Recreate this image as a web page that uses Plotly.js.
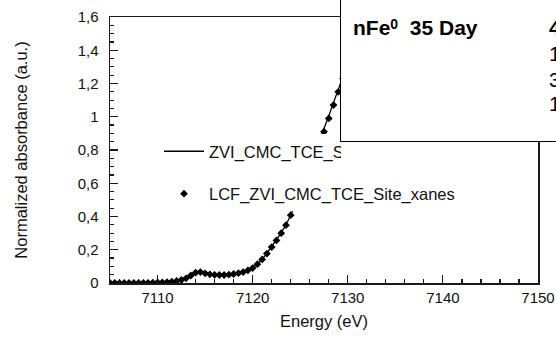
<!DOCTYPE html>
<html>
<head>
<meta charset="utf-8">
<script src="https://cdn.plot.ly/plotly-3.0.1.min.js"></script>
<style>
html,body{margin:0;padding:0;background:#fff;}
#wrap{position:relative;width:556px;height:338px;overflow:hidden;}
#chart{position:absolute;left:0;top:0;width:556px;height:338px;z-index:0;}
#inset{position:absolute;left:340px;top:-3px;width:260px;height:145px;border:1.5px solid #000;background:#fff;box-sizing:border-box;z-index:5;}
#legclip{position:absolute;left:341px;top:142px;width:140px;height:24px;background:#fff;z-index:5;}
.itxt{position:absolute;z-index:6;font-family:Arial,"Liberation Sans",Helvetica,sans-serif;font-size:21px;line-height:21px;color:#000;white-space:pre;}
.itxt sup{font-size:14px;line-height:0;vertical-align:0.45em;}
</style>
</head>
<body>
<div id="wrap">
  <div id="chart"></div>
  <div id="legclip"></div>
  <div id="inset"></div>
</div>
<script>
// Energy grid (eV)
var energy = [7105,7105.5,7106,7106.5,7107,7107.5,7108,7108.5,7109,7109.5,
  7110,7110.5,7111,7111.5,7112,7112.5,7113,7113.5,7114,7114.5,
  7115,7115.5,7116,7116.5,7117,7117.5,7118,7118.5,7119,7119.5,
  7120,7120.5,7121,7121.5,7122,7122.5,7123,7123.5,7124,7124.5,
  7125,7125.5,7126,7126.5,7127,7127.5,7128,7128.5,7129,7129.5,
  7130,7130.5,7131];
// Measured spectrum ZVI_CMC_TCE_Site_xanes
var dataXanes = [0.000,0.000,0.000,0.000,0.000,0.000,0.000,0.001,0.001,0.002,
  0.003,0.004,0.006,0.009,0.013,0.019,0.029,0.046,0.063,0.068,
  0.060,0.053,0.050,0.049,0.049,0.051,0.055,0.060,0.067,0.077,
  0.091,0.114,0.143,0.179,0.219,0.259,0.302,0.350,0.408,0.480,
  0.555,0.625,0.695,0.768,0.845,0.925,1.005,1.085,1.165,1.250,
  1.330,1.400,1.460];
// Linear combination fit LCF_ZVI_CMC_TCE_Site_xanes
var fitXanes = [0.000,0.000,0.000,0.000,0.000,0.000,0.000,0.001,0.001,0.002,
  0.003,0.003,0.005,0.008,0.012,0.018,0.028,0.045,0.062,0.066,
  0.058,0.052,0.049,0.048,0.048,0.050,0.054,0.059,0.066,0.076,
  0.090,0.113,0.142,0.177,0.216,0.256,0.300,0.348,0.408,0.478,
  0.550,0.620,0.690,0.762,0.835,0.910,0.990,1.070,1.150,1.230,
  1.310,1.380,1.440];
var seriesNames = ['ZVI_CMC_TCE_Site_xanes', 'LCF_ZVI_CMC_TCE_Site_xanes'];
var insetTitle = 'nFe<sup>0</sup>  35 Day';
var insetValues = ['4', '1', '3', '1'];

var FONT = 'Arial, "Liberation Sans", Helvetica, sans-serif';
var INK = '#1a1a1a';

var traces = [
  {x: energy, y: dataXanes, name: seriesNames[0], type: 'scatter', mode: 'lines',
   line: {color: '#000', width: 1.3}, legendgroup: 'a'},
  {x: energy, y: fitXanes, name: seriesNames[1], type: 'scatter', mode: 'markers',
   marker: {symbol: 'diamond', size: 6, color: '#000'}, legendgroup: 'b'}
];

function axisBase() {
  return {
    showline: true, mirror: true, linecolor: INK, linewidth: 1.5,
    ticks: 'inside', ticklen: 8, tickwidth: 1.2, tickcolor: INK,
    showgrid: false, zeroline: false, automargin: false,
    tickfont: {family: FONT, size: 15, color: '#111'}
  };
}
var xa = axisBase();
Object.assign(xa, {range: [7105, 7150], tick0: 7110, dtick: 10,
  minor: {ticks: 'inside', dtick: 2, ticklen: 4, tickwidth: 1.2, tickcolor: INK, showgrid: false},
  title: {text: 'Energy (eV)', standoff: 11, font: {family: FONT, size: 16.5, color: '#111'}}});
var ya = axisBase();
Object.assign(ya, {range: [0, 1.6], tick0: 0, dtick: 0.2, ticklabelstandoff: 7,
  minor: {ticks: 'inside', dtick: 0.05, ticklen: 4, tickwidth: 1.2, tickcolor: INK, showgrid: false},
  title: {text: 'Normalized absorbance (a.u.)', standoff: 46, font: {family: FONT, size: 16.5, color: '#111'}}});

var layout = {
  width: 556, height: 338,
  margin: {l: 110, r: 18, t: 17, b: 55, pad: 0},
  paper_bgcolor: '#fff', plot_bgcolor: '#fff',
  separators: ', ',
  xaxis: xa, yaxis: ya,
  showlegend: true,
  legend: {x: 0.1145, y: 0.56, xanchor: 'left', yanchor: 'top', bgcolor: '#fff', borderwidth: 0,
    font: {family: FONT, size: 16.5, color: '#111'}, traceorder: 'grouped', tracegroupgap: 18,
    itemwidth: 40}
};

Plotly.newPlot('chart', traces, layout, {staticPlot: true, displayModeBar: false}).then(function () {
  // inset label box drawn over the plot, like the reference
  var wrap = document.getElementById('wrap');
  function addText(html, left, top, bold) {
    var d = document.createElement('div');
    d.className = 'itxt';
    d.style.left = left + 'px';
    d.style.top = top + 'px';
    d.style.fontWeight = bold ? 'bold' : 'normal';
    d.innerHTML = html;
    wrap.appendChild(d);
  }
  addText(insetTitle, 353, 16.5, true);
  var rowTops = [16.5, 42.5, 68.5, 92.5];
  for (var i = 0; i < insetValues.length; i++) {
    addText(insetValues[i], 549, rowTops[i], i === 0);
  }
});
</script>
</body>
</html>
